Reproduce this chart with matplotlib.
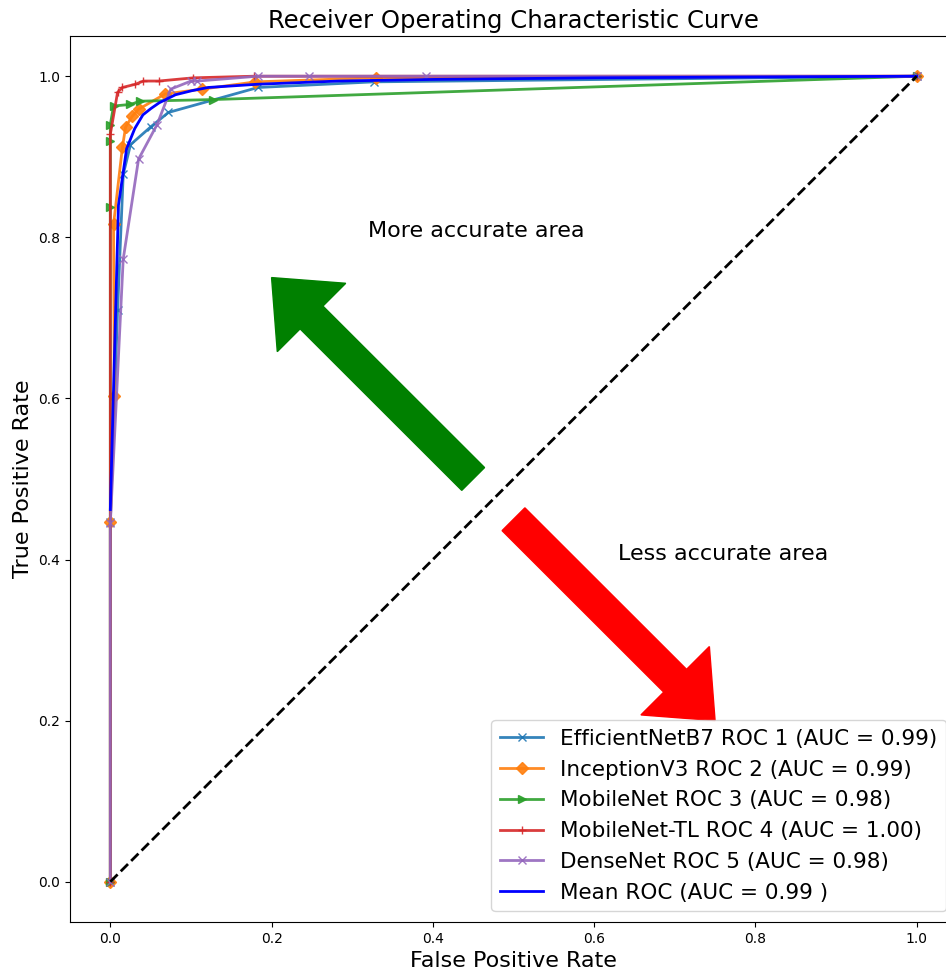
import numpy as np
import matplotlib.pyplot as plt

# ROC points
effnet_fpr = [0.0, 0.0, 0.009, 0.016, 0.025, 0.050, 0.072, 0.183, 0.327, 1.0]
effnet_tpr = [0.0, 0.446, 0.710, 0.878, 0.915, 0.937, 0.955, 0.986, 0.993, 1.0]

incep_fpr = [0.0, 0.0, 0.005, 0.004, 0.015, 0.019, 0.027, 0.035, 0.068, 0.114, 0.180, 0.329, 1.0]
incep_tpr = [0.0, 0.447, 0.603, 0.816, 0.912, 0.937, 0.950, 0.959, 0.978, 0.984, 0.993, 0.998, 1.0]

mobile_fpr = [0.0, 0.0, 0.0, 0.0, 0.004, 0.025, 0.037, 0.127, 1.0]
mobile_tpr = [0.0, 0.838, 0.919, 0.940, 0.963, 0.965, 0.969, 0.971, 1.0]

mobtl_fpr = [0.0, 0.0, 0.009, 0.015, 0.031, 0.041, 0.060, 0.103, 0.178, 1.0]
mobtl_tpr = [0.0, 0.928, 0.980, 0.986, 0.990, 0.994, 0.994, 0.998, 1.0, 1.0]

dense_fpr = [0.0, 0.0, 0.016, 0.035, 0.058, 0.075, 0.100, 0.108, 0.183, 0.246, 0.391, 1.0]
dense_tpr = [0.0, 0.445, 0.773, 0.897, 0.940, 0.984, 0.994, 0.994, 1.0, 1.0, 1.0, 1.0]

mean_fpr = [0.0, 0.0101, 0.0202, 0.0303, 0.0404, 0.0505, 0.0606, 0.0808, 0.101, 0.121, 0.182, 0.283, 0.40, 0.60, 0.80, 1.0]
mean_tpr = [0.462, 0.840, 0.910, 0.935, 0.952, 0.960, 0.967, 0.977, 0.982, 0.986, 0.990, 0.994, 0.996, 0.998, 0.999, 1.0]

labels = ['EfficientNetB7 ROC 1 (AUC = 0.99)',
          'InceptionV3 ROC 2 (AUC = 0.99)',
          'MobileNet ROC 3 (AUC = 0.98)',
          'MobileNet-TL ROC 4 (AUC = 1.00)',
          'DenseNet ROC 5 (AUC = 0.98)']

fig = plt.figure(figsize=(9.46, 9.74), dpi=100)
ax = fig.add_axes([0.074, 0.0534, 0.9376, 0.9097])

curves = [(effnet_fpr, effnet_tpr, 'x'), (incep_fpr, incep_tpr, 'D'),
          (mobile_fpr, mobile_tpr, '>'), (mobtl_fpr, mobtl_tpr, '+'),
          (dense_fpr, dense_tpr, 'x')]
for (f, t, m), lab in zip(curves, labels):
    ax.plot(f, t, marker=m, markersize=6, lw=2, alpha=0.9, label=lab)

ax.plot(mean_fpr, mean_tpr, color='b', lw=2, label='Mean ROC (AUC = 0.99 )')
ax.plot([0, 1], [0, 1], linestyle='--', lw=2, color='k')

ax.arrow(0.45, 0.5, -0.25, 0.25, width=0.04, head_width=0.12, head_length=0.07,
         length_includes_head=True, color='green')
ax.arrow(0.5, 0.45, 0.25, -0.25, width=0.04, head_width=0.12, head_length=0.07,
         length_includes_head=True, color='red')
ax.text(0.32, 0.8, 'More accurate area', fontsize=16)
ax.text(0.63, 0.4, 'Less accurate area', fontsize=16)

ax.set_xlim(-0.05, 1.05)
ax.set_ylim(-0.05, 1.05)
ax.set_xlabel('False Positive Rate', fontsize=16)
ax.set_ylabel('True Positive Rate', fontsize=16)
ax.set_title('Receiver Operating Characteristic Curve', fontsize=17.5)
ax.legend(loc='lower right', fontsize=15.5)

fig.savefig('out.png', dpi=100)
